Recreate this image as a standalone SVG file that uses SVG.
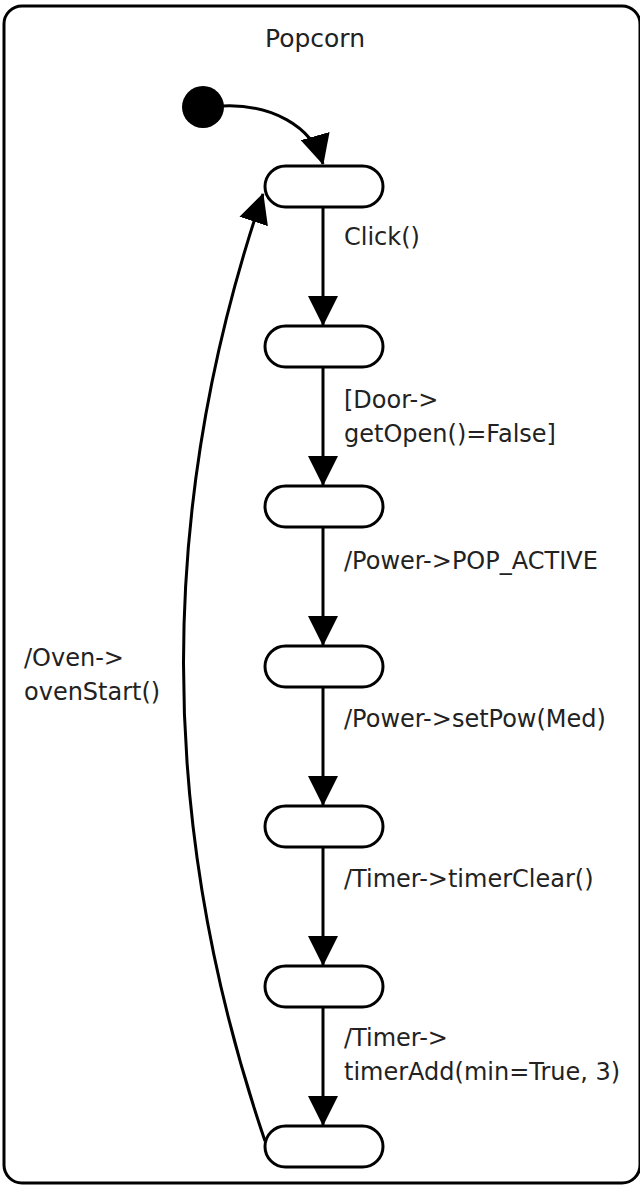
<svg xmlns="http://www.w3.org/2000/svg" width="640" height="1186" viewBox="0 0 640 1186">
<defs>
<marker id="arr" markerUnits="userSpaceOnUse" markerWidth="30" markerHeight="30" viewBox="0 0 30 30" refX="29" refY="15" orient="auto">
<path d="M0,0 L30,15 L0,30 z" fill="#000"/>
</marker>
<style>
.frame{fill:#fff;stroke:#000;stroke-width:3}
.state{fill:#fff;stroke:#000;stroke-width:3}
.edge{fill:none;stroke:#000;stroke-width:3;marker-end:url(#arr)}
.lbl{font-family:"DejaVu Sans",sans-serif;font-size:24px;fill:#222}
</style>
</defs>
<rect width="640" height="1186" fill="#fff"/>
<g id="popcorn">
<rect class="frame" x="4" y="6" width="636" height="1177" rx="18"/>
<text class="lbl" x="315" y="47" text-anchor="middle" style="font-size:25px">Popcorn</text>
</g>
<g id="initial"><circle cx="203" cy="107" r="21" fill="#000"/></g>
<g id="s1"><rect class="state" x="265" y="166" width="118" height="41" rx="20.5"/></g>
<g id="s2"><rect class="state" x="265" y="326" width="118" height="41" rx="20.5"/></g>
<g id="s3"><rect class="state" x="265" y="486" width="118" height="41" rx="20.5"/></g>
<g id="s4"><rect class="state" x="265" y="646" width="118" height="41" rx="20.5"/></g>
<g id="s5"><rect class="state" x="265" y="806" width="118" height="41" rx="20.5"/></g>
<g id="s6"><rect class="state" x="265" y="966" width="118" height="41" rx="20.5"/></g>
<g id="s7"><rect class="state" x="265" y="1126" width="118" height="41" rx="20.5"/></g>
<g id="connectors">
<path class="edge" d="M223,106 C270,104 312,125 323,164"/>
<path class="edge" d="M323,208 L323,325"/>
<path class="edge" d="M323,368 L323,485"/>
<path class="edge" d="M323,528 L323,645"/>
<path class="edge" d="M323,688 L323,805"/>
<path class="edge" d="M323,848 L323,965"/>
<path class="edge" d="M323,1008 L323,1125"/>
<path class="edge" d="M265,1141 Q103,665 263,194"/>
<text class="lbl" x="344" y="245">Click()</text>
<text class="lbl" x="344" y="408">[Door-&gt;</text>
<text class="lbl" x="344" y="442">getOpen()=False]</text>
<text class="lbl" x="344" y="569">/Power-&gt;POP_ACTIVE</text>
<text class="lbl" x="344" y="727">/Power-&gt;setPow(Med)</text>
<text class="lbl" x="344" y="887">/Timer-&gt;timerClear()</text>
<text class="lbl" x="344" y="1046">/Timer-&gt;</text>
<text class="lbl" x="344" y="1080">timerAdd(min=True, 3)</text>
<text class="lbl" x="24" y="666">/Oven-&gt;</text>
<text class="lbl" x="24" y="700">ovenStart()</text>
</g>
</svg>
